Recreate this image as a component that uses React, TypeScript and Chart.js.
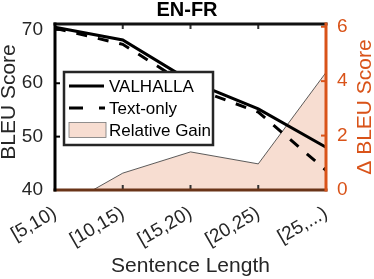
import React, { useEffect, useRef } from 'react';
import { Chart, registerables } from 'chart.js';

Chart.register(...registerables);

const categories = ['[5,10)', '[10,15)', '[15,20)', '[20,25)', '[25,...)'];
const valhalla = [70.5, 68.1, 60.4, 55.2, 48.0];
const textOnly = [70.3, 67.3, 59.3, 54.6, 43.7];
const relativeGain = [-0.79, 0.62, 1.4, 0.96, 4.32];
const leftTicks = [40, 50, 60, 70];
const rightTicks = [0, 2, 4, 6];
const seriesNames = ['VALHALLA', 'Text-only', 'Relative Gain'];
const chartTitle = 'EN-FR';
const xTitle = 'Sentence Length';
const yTitle = 'BLEU Score';
const y1Title = 'Δ BLEU Score';

const FONT = '"Liberation Sans", Arial, Helvetica, sans-serif';
const ORANGE = '#D95319';
const DARK = '#262626';
const FILL = 'rgb(247,221,209)';
const BOTTOM = '#6a3418';

const framePlugin = {
  id: 'frameAndLegend',
  afterDraw(chart: any) {
    const { ctx, chartArea: a, scales } = chart;
    const x = scales.x, y = scales.y, y1 = scales.y1;
    ctx.save();
    ctx.lineCap = 'butt';
    // ticks
    ctx.strokeStyle = '#333';
    ctx.lineWidth = 2;
    for (let i = 1; i < categories.length - 1; i++) {
      const px = x.getPixelForValue(i);
      ctx.beginPath();
      ctx.moveTo(px, a.top); ctx.lineTo(px, a.top + 5);
      ctx.moveTo(px, a.bottom); ctx.lineTo(px, a.bottom - 5);
      ctx.stroke();
    }
    ctx.strokeStyle = '#000';
    for (const v of leftTicks) {
      const py = y.getPixelForValue(v);
      ctx.beginPath(); ctx.moveTo(a.left, py); ctx.lineTo(a.left + 5, py); ctx.stroke();
    }
    ctx.strokeStyle = ORANGE;
    for (const v of rightTicks) {
      const py = y1.getPixelForValue(v);
      ctx.beginPath(); ctx.moveTo(a.right, py); ctx.lineTo(a.right - 5, py); ctx.stroke();
    }
    // frame
    ctx.lineWidth = 3;
    ctx.strokeStyle = '#111';
    ctx.beginPath(); ctx.moveTo(a.left - 1.5, a.top); ctx.lineTo(a.right + 1.5, a.top); ctx.stroke();
    ctx.strokeStyle = BOTTOM;
    ctx.beginPath(); ctx.moveTo(a.left - 1.5, a.bottom); ctx.lineTo(a.right + 1.5, a.bottom); ctx.stroke();
    ctx.strokeStyle = '#000';
    ctx.beginPath(); ctx.moveTo(a.left, a.top - 1.5); ctx.lineTo(a.left, a.bottom + 1.5); ctx.stroke();
    ctx.strokeStyle = ORANGE;
    ctx.beginPath(); ctx.moveTo(a.right, a.top - 1.5); ctx.lineTo(a.right, a.bottom + 1.5); ctx.stroke();

    // legend
    const lx = a.left + 9, ly = a.top + 48, lw = 149, lh = 73;
    ctx.fillStyle = '#fff';
    ctx.fillRect(lx, ly, lw, lh);
    ctx.lineWidth = 2.5;
    ctx.strokeStyle = DARK;
    ctx.strokeRect(lx, ly, lw, lh);
    const rows = [ly + 14, ly + 36, ly + 58];
    ctx.lineWidth = 3;
    ctx.strokeStyle = '#000';
    ctx.beginPath(); ctx.moveTo(lx + 5, rows[0]); ctx.lineTo(lx + 40, rows[0]); ctx.stroke();
    ctx.setLineDash([14, 16]);
    ctx.beginPath(); ctx.moveTo(lx + 5, rows[1]); ctx.lineTo(lx + 41, rows[1]); ctx.stroke();
    ctx.setLineDash([]);
    ctx.fillStyle = FILL;
    ctx.fillRect(lx + 5, rows[2] - 7.5, 37, 15);
    ctx.lineWidth = 0.8;
    ctx.strokeStyle = '#777';
    ctx.strokeRect(lx + 5, rows[2] - 7.5, 37, 15);
    ctx.fillStyle = '#000';
    ctx.font = `17px ${FONT}`;
    ctx.textAlign = 'left';
    ctx.textBaseline = 'middle';
    seriesNames.forEach((n, i) => ctx.fillText(n, lx + 45, rows[i] + 1));

    // y titles
    ctx.font = `21px ${FONT}`;
    ctx.textAlign = 'center';
    ctx.fillStyle = DARK;
    ctx.save();
    ctx.translate(9, (a.top + a.bottom) / 2 - 5);
    ctx.rotate(-Math.PI / 2);
    ctx.fillText(yTitle, 0, 0);
    ctx.restore();
    ctx.fillStyle = ORANGE;
    ctx.save();
    ctx.translate(365, (a.top + a.bottom) / 2);
    ctx.rotate(-Math.PI / 2);
    ctx.fillText(y1Title, 0, 0);
    ctx.restore();
    ctx.restore();
  },
};

export default function App() {
  const ref = useRef<HTMLCanvasElement>(null);
  useEffect(() => {
    document.body.style.margin = '0';
    const canvas = ref.current!;
    const chart = new Chart(canvas, {
      type: 'line',
      data: {
        labels: categories,
        datasets: [
          {
            label: seriesNames[0], data: valhalla, yAxisID: 'y', borderColor: '#000', borderWidth: 3,
            pointRadius: 0, fill: false, tension: 0, order: 1,
          },
          {
            label: seriesNames[1], data: textOnly, yAxisID: 'y', borderColor: '#000', borderWidth: 3,
            borderDash: [11, 11], pointRadius: 0, fill: false, tension: 0, order: 2,
          },
          {
            label: seriesNames[2], data: relativeGain, yAxisID: 'y1', borderColor: '#333', borderWidth: 0.8,
            backgroundColor: FILL, pointRadius: 0, fill: 'origin', tension: 0, order: 3, clip: 0,
          } as any,
        ],
      },
      options: {
        animation: false,
        responsive: false,
        devicePixelRatio: 1,
        layout: { padding: 0 },
        plugins: {
          legend: { display: false },
          tooltip: { enabled: false },
          title: {
            display: true, text: chartTitle, color: '#000',
            font: { family: FONT, size: 20, weight: 'bold', lineHeight: 1 },
            padding: { top: 0, bottom: 4 },
          },
        },
        scales: {
          x: {
            type: 'category', offset: false,
            grid: { display: false, drawTicks: false }, border: { display: false },
            ticks: { font: { family: FONT, size: 19 }, color: DARK, minRotation: 30, maxRotation: 30, autoSkip: false, padding: 12 },
            title: { display: true, text: xTitle, color: DARK, font: { family: FONT, size: 21 }, padding: { top: 0, bottom: 0 } },
            afterFit: (s: any) => { s.height = 89; },
          },
          y: {
            position: 'left', min: 40, max: 71.1,
            grid: { display: false, drawTicks: false }, border: { display: false },
            ticks: { font: { family: FONT, size: 19 }, color: DARK, padding: 12 },
            afterBuildTicks: (s: any) => { s.ticks = leftTicks.map((v) => ({ value: v })); },
            afterFit: (s: any) => { s.width = 55; },
          },
          y1: {
            position: 'right', min: 0, max: 6.1,
            grid: { display: false, drawTicks: false }, border: { display: false },
            ticks: { font: { family: FONT, size: 19 }, color: ORANGE, padding: 11 },
            afterBuildTicks: (s: any) => { s.ticks = rightTicks.map((v) => ({ value: v })); },
            afterFit: (s: any) => { s.width = 48; },
          },
        },
      } as any,
      plugins: [framePlugin],
    });
    return () => chart.destroy();
  }, []);
  return (
    <div style={{ width: 374, height: 279 }}>
      <canvas ref={ref} width={374} height={279} />
    </div>
  );
}
